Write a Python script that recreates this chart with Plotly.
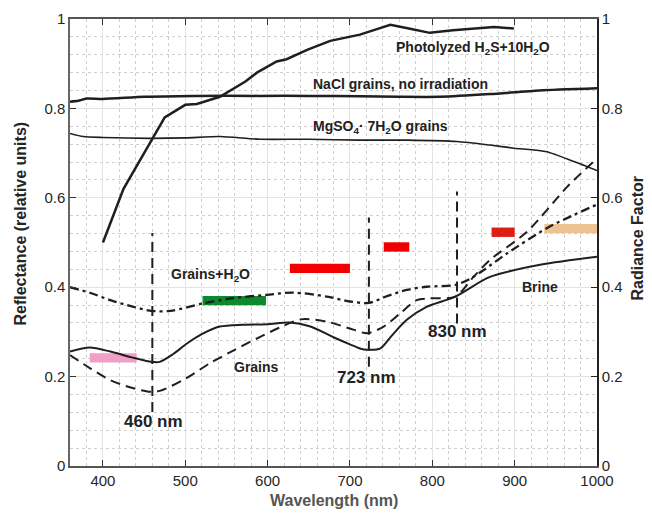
import plotly.graph_objects as go

# ---------------- data ----------------
photo_x = [400, 425, 450, 475, 500, 514, 542, 573, 587, 611, 623, 648, 676, 696, 712, 729, 749, 773, 797, 825, 850, 875, 899]
photo_y = [0.50, 0.62, 0.70, 0.78, 0.808, 0.81, 0.826, 0.86, 0.88, 0.905, 0.91, 0.931, 0.951, 0.959, 0.965, 0.975, 0.987, 0.978, 0.969, 0.975, 0.979, 0.982, 0.979]

nacl_x = [360, 370, 380, 400, 450, 510, 590, 650, 712, 760, 810, 870, 930, 1000]
nacl_y = [0.815, 0.817, 0.822, 0.821, 0.826, 0.828, 0.828, 0.828, 0.827, 0.826, 0.826, 0.832, 0.840, 0.845]

mgso4_x = [360, 376, 400, 457, 500, 542, 591, 650, 712, 770, 830, 870, 899, 939, 972, 1000]
mgso4_y = [0.744, 0.737, 0.735, 0.733, 0.734, 0.737, 0.731, 0.731, 0.729, 0.729, 0.726, 0.718, 0.711, 0.703, 0.681, 0.661]

grains_h2o_x = [360, 385, 409, 435, 459, 482, 522, 560, 599, 631, 672, 700, 723, 745, 769, 793, 828, 845, 862, 891, 939, 970, 1000]
grains_h2o_y = [0.400, 0.387, 0.371, 0.357, 0.347, 0.347, 0.364, 0.376, 0.383, 0.388, 0.379, 0.368, 0.365, 0.380, 0.394, 0.401, 0.405, 0.418, 0.438, 0.476, 0.532, 0.560, 0.585]

grains_x = [360, 385, 409, 435, 457, 469, 500, 530, 560, 591, 615, 640, 672, 704, 721, 741, 760, 781, 797, 828, 850, 870, 915, 964, 1000]
grains_y = [0.248, 0.218, 0.192, 0.175, 0.166, 0.168, 0.195, 0.230, 0.260, 0.289, 0.310, 0.328, 0.323, 0.305, 0.297, 0.312, 0.340, 0.371, 0.375, 0.379, 0.423, 0.461, 0.524, 0.625, 0.688]

brine_x = [360, 384, 409, 435, 459, 469, 485, 502, 520, 542, 570, 599, 627, 652, 680, 700, 712, 721, 737, 750, 769, 793, 828, 870, 931, 1000]
brine_y = [0.256, 0.265, 0.256, 0.243, 0.233, 0.233, 0.250, 0.274, 0.295, 0.312, 0.316, 0.317, 0.321, 0.312, 0.288, 0.272, 0.263, 0.260, 0.263, 0.290, 0.327, 0.356, 0.379, 0.423, 0.450, 0.468]

marker_nm = [460, 723, 830]
marker_top = [0.521, 0.556, 0.614]
marker_bottom = [0.121, 0.222, 0.319]
marker_labels = ["460 nm", "723 nm", "830 nm"]
marker_label_x = [461, 720, 830]
marker_label_y = [0.099, 0.197, 0.300]

band_x0 = [384, 521, 627, 741, 872, 936]
band_x1 = [441, 598, 700, 772, 900, 1000]
band_y = [0.242, 0.370, 0.442, 0.490, 0.523, 0.531]
band_colors = ["#f19ec9", "#0d8a2d", "#f50000", "#ee0000", "#dc1e14", "#eec393"]

curve_labels = ["Photolyzed H<sub>2</sub>S+10H<sub>2</sub>O", "NaCl grains, no irradiation",
                "MgSO<sub>4</sub>· 7H<sub>2</sub>O grains", "Grains+H<sub>2</sub>O", "Grains", "Brine"]
curve_label_x = [850, 761, 737, 531, 587, 931]
curve_label_y = [0.935, 0.855, 0.758, 0.427, 0.222, 0.400]

x_ticks = [400, 500, 600, 700, 800, 900, 1000]
y_ticks = [0, 0.2, 0.4, 0.6, 0.8, 1]
y_ticklabels = ["0", "0.2", "0.4", "0.6", "0.8", "1"]

# ---------------- figure ----------------
fig = go.Figure()
LC = "#1f1f1f"
FONT = "Liberation Sans, Arial, sans-serif"

fig.add_trace(go.Scatter(x=photo_x, y=photo_y, mode="lines", line=dict(color=LC, width=2.5)))
fig.add_trace(go.Scatter(x=nacl_x, y=nacl_y, mode="lines", line=dict(color=LC, width=2.5, shape="spline", smoothing=0.6)))
fig.add_trace(go.Scatter(x=mgso4_x, y=mgso4_y, mode="lines", line=dict(color=LC, width=1.6, shape="spline", smoothing=0.6)))
fig.add_trace(go.Scatter(x=grains_h2o_x, y=grains_h2o_y, mode="lines",
                         line=dict(color=LC, width=2.3, dash="9px,4px,3px,4px", shape="spline", smoothing=0.8)))
fig.add_trace(go.Scatter(x=grains_x, y=grains_y, mode="lines",
                         line=dict(color=LC, width=2.0, dash="10px,6px", shape="spline", smoothing=0.8)))
fig.add_trace(go.Scatter(x=brine_x, y=brine_y, mode="lines",
                         line=dict(color=LC, width=2.0, shape="spline", smoothing=0.8)))

for xv, y0, y1 in zip(marker_nm, marker_bottom, marker_top):
    fig.add_trace(go.Scatter(x=[xv, xv], y=[y0, y1], mode="lines",
                             line=dict(color=LC, width=2.0, dash="10px,6px")))

# invisible trace for the right axis
fig.add_trace(go.Scatter(x=[360], y=[0], yaxis="y2", mode="markers", marker=dict(opacity=0), hoverinfo="skip"))

for x0, x1, yc, col in zip(band_x0, band_x1, band_y, band_colors):
    fig.add_shape(type="rect", xref="x", yref="y", x0=x0, x1=x1, y0=yc - 0.0105, y1=yc + 0.0105,
                  fillcolor=col, line=dict(width=0), layer="between")

for t, xv, yv in zip(curve_labels, curve_label_x, curve_label_y):
    fig.add_annotation(x=xv, y=yv, text="<b>" + t + "</b>", showarrow=False,
                       font=dict(family=FONT, size=14, color="#222222"))

for t, xv, yv in zip(marker_labels, marker_label_x, marker_label_y):
    fig.add_annotation(x=xv, y=yv, text="<b>" + t + "</b>", showarrow=False,
                       font=dict(family=FONT, size=17, color="#222222"))

# axis titles
fig.add_annotation(xref="paper", yref="paper", x=0, y=0.5, xshift=-50, yshift=19, textangle=-90,
                   xanchor="center", yanchor="middle",
                   text="<b>Reflectance (relative units)</b>", showarrow=False,
                   font=dict(family=FONT, size=16, color="#262626"))
fig.add_annotation(xref="paper", yref="paper", x=1, y=0.5, xshift=40, yshift=4, textangle=-90,
                   xanchor="center", yanchor="middle",
                   text="<b>Radiance Factor</b>", showarrow=False,
                   font=dict(family=FONT, size=16, color="#262626"))
fig.add_annotation(xref="paper", yref="paper", x=0.5, y=0, yshift=-34,
                   xanchor="center", yanchor="middle",
                   text="<b>Wavelength (nm)</b>", showarrow=False,
                   font=dict(family=FONT, size=16, color="#555555"))

axis_font = dict(family=FONT, size=15, color="#262626")
minor_grid = dict(showgrid=True, gridcolor="#cfcfcf", griddash="dot", gridwidth=1, ticks="")

# margins compensate for the 8px default page margin of the viewer
fig.update_layout(
    width=652, height=514,
    margin=dict(l=62, r=63, t=11, b=56, autoexpand=False),
    paper_bgcolor="white", plot_bgcolor="white",
    showlegend=False,
    font=dict(family=FONT),
    xaxis=dict(range=[360, 1000], tickvals=x_ticks, ticks="inside", ticklen=6, tickcolor="#333",
               showline=True, linecolor="#555", linewidth=1.5, mirror="ticks",
               showgrid=True, gridcolor="#e4e4e4", gridwidth=1,
               minor=dict(dtick=20, tick0=0, **minor_grid),
               tickfont=axis_font, zeroline=False, automargin=False),
    yaxis=dict(range=[0, 1], tickvals=y_ticks, ticktext=y_ticklabels, ticks="inside", ticklen=6, tickcolor="#333",
               showline=True, linecolor="#666", linewidth=1.5,
               showgrid=True, gridcolor="#e4e4e4", gridwidth=1,
               minor=dict(dtick=0.04, tick0=0, **minor_grid),
               tickfont=axis_font, zeroline=False, automargin=False),
    yaxis2=dict(range=[0, 1], overlaying="y", side="right", tickvals=y_ticks, ticktext=y_ticklabels,
                ticks="inside", ticklen=6, tickcolor="#222",
                showline=True, linecolor="#222", linewidth=1.5, showgrid=False, zeroline=False,
                tickfont=axis_font, automargin=False),
)

fig.write_html("out.html")
